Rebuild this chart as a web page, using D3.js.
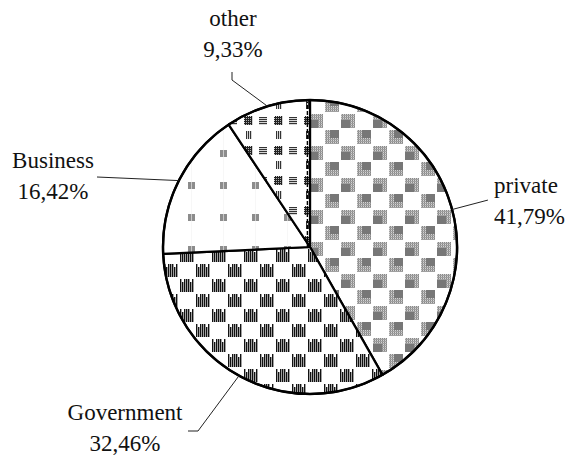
<!DOCTYPE html>
<html>
<head>
<meta charset="utf-8">
<script src="https://cdn.jsdelivr.net/npm/d3@7"></script>
<style>
  body{margin:0;background:#fff;}
  svg text{font-family:"Liberation Serif","Times New Roman",Tinos,"DejaVu Serif",serif;font-size:23px;fill:#111;}
</style>
</head>
<body>
<div class="pie-chart-container"></div>
<script>
//Data
const categories =['private','Government','Business','other'];
const shares =[41.79,32.46,16.42,9.33];
const shareLabels =['41,79%','32,46%','16,42%','9,33%'];

//label layout (leader elbows + text anchors), page coordinates
const labelLayout ={
  private:   {elbowR:184, extra:null,       anchor:'start',  tx:494, ty:193},
  Government:{elbow:[198,431], extra:[188,431], anchor:'middle', tx:125, ty:420},
  Business:  {elbow:[97,177],  extra:null,      anchor:'middle', tx:53,  ty:168},
  other:     {elbow:[232,80],  extra:[232,72],  anchor:'middle', tx:233, ty:26}
};

const svg_width =566;
const svg_height =457;
const cx =310, cy =247, radius =147;

const pieData =categories.map((c,i)=>({category:c,value:shares[i],label:shareLabels[i]}));

const svg =d3.select('.pie-chart-container').append('svg')
  .attr('width',svg_width).attr('height',svg_height);

//patterns
const defs =svg.append('defs');

//fine plaid used inside private blocks
const plaid =defs.append('pattern').attr('id','plaid')
  .attr('patternUnits','userSpaceOnUse').attr('width',2).attr('height',2);
plaid.append('rect').attr('width',2).attr('height',2).attr('fill','#d4d4d4');
plaid.append('rect').attr('width',1).attr('height',2).attr('fill','#888');
plaid.append('rect').attr('width',2).attr('height',1).attr('fill','#a0a0a0');

const pPriv =defs.append('pattern').attr('id','pat-private')
  .attr('patternUnits','userSpaceOnUse').attr('width',32).attr('height',32)
  .attr('x',-2).attr('y',-6);
pPriv.append('rect').attr('width',32).attr('height',32).attr('fill','#fff');
[[0,0],[16,16]].forEach(([x,y],i)=>{
  pPriv.append('rect').attr('x',x+1).attr('y',y+1).attr('width',14).attr('height',14).attr('fill','url(#plaid)');
  const dx =i===0?1:6, dy =i===0?7:1;
  pPriv.append('rect').attr('x',x+dx).attr('y',y+dy).attr('width',9).attr('height',8).attr('fill','#777');
});

const pGov =defs.append('pattern').attr('id','pat-government')
  .attr('patternUnits','userSpaceOnUse').attr('width',32).attr('height',30)
  .attr('x',-3).attr('y',1);
pGov.append('rect').attr('width',32).attr('height',30).attr('fill','#fff');
[[0,0],[16,15]].forEach(([x,y])=>{
  d3.range(7).forEach(k=>{
    const top =(k===1||k===5)?y+4:y+1;
    pGov.append('rect').attr('x',x+1+k*2).attr('y',top)
      .attr('width',1.4).attr('height',y+14-top).attr('fill','#111');
  });
});

const pBus =defs.append('pattern').attr('id','pat-business')
  .attr('patternUnits','userSpaceOnUse').attr('width',32).attr('height',32)
  .attr('x',5).attr('y',-2);
pBus.append('rect').attr('width',32).attr('height',32).attr('fill','#fff');
pBus.append('rect').attr('x',1).attr('y',1).attr('width',7).attr('height',7).attr('fill','#8c8c8c');
pBus.append('rect').attr('x',4).attr('y',0).attr('width',0.6).attr('height',32).attr('fill','#f2f2f2');

const pOther =defs.append('pattern').attr('id','pat-other')
  .attr('patternUnits','userSpaceOnUse').attr('width',30).attr('height',30)
  .attr('x',-66).attr('y',-131);
pOther.append('rect').attr('width',30).attr('height',30).attr('fill','#fff');
//crossed block
d3.range(4).forEach(k=>{
  pOther.append('rect').attr('x',0).attr('y',1+k*2).attr('width',8).attr('height',1.2).attr('fill','#222');
  pOther.append('rect').attr('x',1+k*2).attr('y',0).attr('width',1.2).attr('height',9).attr('fill','#222');
});
//horizontal block
d3.range(4).forEach(k=>{
  pOther.append('rect').attr('x',15).attr('y',1+k*2).attr('width',8).attr('height',1.2).attr('fill','#333');
});
//vertical block
d3.range(3).forEach(k=>{
  pOther.append('rect').attr('x',2+k*2).attr('y',15).attr('width',1.2).attr('height',8).attr('fill','#333');
});

const patternFor ={
  private:'url(#pat-private)',
  Government:'url(#pat-government)',
  Business:'url(#pat-business)',
  other:'url(#pat-other)'
};

//pie
const pie =d3.pie().sort(null).value(d=>d.value);
const arcs =pie(pieData);
const arc =d3.arc().innerRadius(0).outerRadius(radius);

const g =svg.append('g').attr('transform',`translate(${cx},${cy})`);

g.selectAll('.slice').data(arcs).enter()
  .append('path').attr('class','slice')
  .attr('d',arc)
  .attr('fill',d=>patternFor[d.data.category])
  .attr('stroke','#000').attr('stroke-width',2.2)
  .attr('stroke-linejoin','round');

//dashed edge next to the private / other border
const startA =arcs[0].startAngle;
g.append('line')
  .attr('x1',-2.6).attr('y1',0)
  .attr('x2',Math.sin(startA)*radius-2.6).attr('y2',-Math.cos(startA)*radius+2)
  .attr('stroke','#000').attr('stroke-width',1.4).attr('stroke-dasharray','4,2');

g.append('circle').attr('r',radius).attr('fill','none')
  .attr('stroke','#000').attr('stroke-width',2.4);

//labels + leader lines
const edgeArc =d3.arc().innerRadius(radius).outerRadius(radius);
const labels =svg.append('g').attr('class','labels');

arcs.forEach(d=>{
  const lay =labelLayout[d.data.category];
  const [ex,ey] =edgeArc.centroid(d);
  const pts =[[cx+ex,cy+ey]];
  if(lay.elbowR){
    const [ox,oy] =d3.arc().innerRadius(lay.elbowR).outerRadius(lay.elbowR).centroid(d);
    pts.push([cx+ox,cy+oy]);
  }else{
    pts.push(lay.elbow);
  }
  if(lay.extra) pts.push(lay.extra);
  labels.append('path')
    .attr('d',d3.line()(pts))
    .attr('fill','none').attr('stroke','#222').attr('stroke-width',1);

  const t =labels.append('text').attr('text-anchor',lay.anchor);
  t.append('tspan').attr('x',lay.tx).attr('y',lay.ty).text(d.data.category);
  t.append('tspan').attr('x',lay.tx).attr('y',lay.ty+30.5).text(d.data.label);
});
</script>
</body>
</html>
